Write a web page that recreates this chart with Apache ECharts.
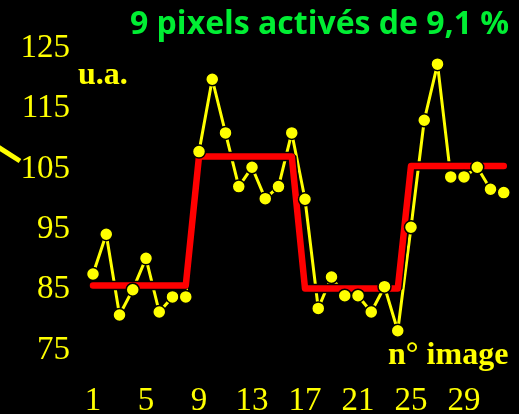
<!DOCTYPE html>
<html>
<head>
<meta charset="utf-8">
<script src="https://cdn.jsdelivr.net/npm/echarts@6/dist/echarts.min.js"></script>
<style>
  html, body { margin: 0; padding: 0; background: #000; }
  #chart { width: 519px; height: 414px; }
</style>
</head>
<body>
<div id="chart"></div>
<script>
// Image index (n° image)
const imageIndex = ['1','2','3','4','5','6','7','8','9','10','11','12','13','14','15','16',
                    '17','18','19','20','21','22','23','24','25','26','27','28','29','30','31','32'];

// Measured signal of the activated pixels (u.a.)
const signal = [87.6, 94.2, 80.8, 85.0, 90.2, 81.3, 83.8, 83.8,
                107.9, 119.9, 111.0, 102.1, 105.3, 100.1, 102.1, 111.0,
                100.0, 81.9, 87.1, 84.0, 84.0, 81.3, 85.5, 78.2,
                95.35, 113.1, 122.4, 103.7, 103.7, 105.3, 101.65, 101.1];

// Block (rest / activation) reference level
const paradigm = [85.7, 85.7, 85.7, 85.7, 85.7, 85.7, 85.7, 85.7,
                  107.1, 107.1, 107.1, 107.1, 107.1, 107.1, 107.1, 107.1,
                  85.2, 85.2, 85.2, 85.2, 85.2, 85.2, 85.2, 85.2,
                  105.5, 105.5, 105.5, 105.5, 105.5, 105.5, 105.5, 105.5];

// Tick labels shown on each axis
const xTickLabels = ['1','5','9','13','17','21','25','29'];
const yTickLabels = [75, 85, 95, 105, 115, 125];

const YELLOW = '#ffff00';
const chart = echarts.init(document.getElementById('chart'));

chart.setOption({
  backgroundColor: '#000',
  animation: false,
  grid: {
    left: 93, right: 15.25, top: 18.35, bottom: 33.85,
    containLabel: false,
    outerBoundsMode: 'none'
  },
  xAxis: {
    type: 'category',
    data: imageIndex,
    boundaryGap: false,
    axisLine: { show: false },
    axisTick: { show: false },
    splitLine: { show: false },
    axisLabel: {
      interval: 0,
      margin: 5,
      color: YELLOW,
      fontFamily: 'Liberation Serif',
      fontSize: 33,
      formatter: v => xTickLabels.includes(v) ? v : ''
    }
  },
  yAxis: {
    type: 'value',
    min: 70,
    max: 130,
    interval: 5,
    axisLine: { show: false },
    axisTick: { show: false },
    splitLine: { show: false },
    axisLabel: {
      margin: 23,
      color: YELLOW,
      fontFamily: 'Liberation Serif',
      fontSize: 33,
      formatter: v => yTickLabels.includes(v) ? String(v) : ''
    }
  },
  series: [
    {
      type: 'line',
      data: signal,
      showSymbol: false,
      lineStyle: { color: YELLOW, width: 3 },
      z: 2
    },
    {
      // dark halo under the block curve
      type: 'line',
      data: paradigm,
      showSymbol: false,
      lineStyle: { color: '#000', width: 9.5, cap: 'round' },
      z: 3
    },
    {
      type: 'line',
      data: paradigm,
      showSymbol: false,
      lineStyle: { color: '#ff0000', width: 6.5, cap: 'round', join: 'round' },
      z: 4
    },
    {
      type: 'scatter',
      data: signal,
      symbol: 'circle',
      symbolSize: 13,
      itemStyle: { color: YELLOW, borderColor: '#000', borderWidth: 1.5, opacity: 1 },
      z: 5
    }
  ],
  graphic: [
    {
      type: 'text',
      left: 130,
      top: 9,
      style: {
        text: '9 pixels activés de 9,1 %',
        fill: '#00ee33',
        font: 'bold 32px "Open Sans"'
      }
    },
    {
      type: 'text',
      left: 78,
      top: 60,
      style: {
        text: 'u.a.',
        fill: YELLOW,
        font: 'bold 32px "Liberation Serif"'
      }
    },
    {
      type: 'text',
      left: 388,
      top: 340,
      style: {
        text: 'n° image',
        fill: YELLOW,
        font: 'bold 32px "Liberation Serif"'
      }
    },
    {
      type: 'line',
      shape: { x1: -2, y1: 147, x2: 20, y2: 161 },
      style: { stroke: YELLOW, lineWidth: 5 }
    }
  ]
});
</script>
</body>
</html>
